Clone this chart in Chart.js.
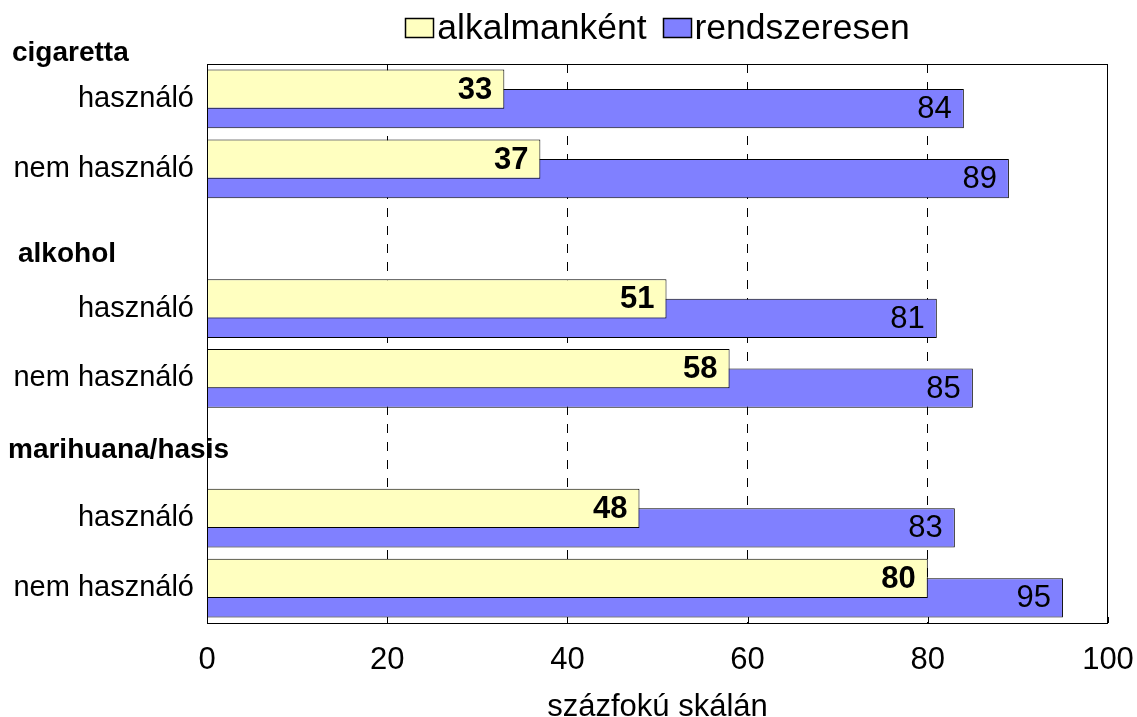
<!DOCTYPE html>
<html>
<head>
<meta charset="utf-8">
<script src="https://cdn.jsdelivr.net/npm/chart.js@4"></script>
<style>
  html, body { margin: 0; padding: 0; background: #fff; }
  #wrap { width: 1137px; height: 717px; }
</style>
</head>
<body>
<div id="wrap"><canvas id="chart" width="1137" height="717"></canvas></div>
<script>
// Rows of the chart (empty rows leave room for the group headings)
const categories = ['használó', 'nem használó', '', 'használó', 'nem használó', '', 'használó', 'nem használó'];
// Values on a 0-100 scale
const occasional = [33, 37, null, 51, 58, null, 48, 80];
const regular    = [84, 89, null, 81, 85, null, 83, 95];
const seriesNames = ['alkalmanként', 'rendszeresen'];
// Group headings and where they sit, in row units of the category axis
const groupNames = ['cigaretta', 'alkohol', 'marihuana/hasis'];
const groupRows  = [-0.65, 2.22, 5.03];
const groupLeft  = [12, 18, 8];
const xTicks = [0, 20, 40, 60, 80, 100];
const axisTitle = 'százfokú skálán';

const FONT = "'Liberation Sans', Arial, sans-serif";
const fillColors = ['#FFFFC0', '#8080FF'];

// Black frame around the plot area plus short inward tick marks on the bottom edge
const framePlugin = {
  id: 'frame',
  afterDatasetsDraw(chart) {
    const { ctx, chartArea: a, scales } = chart;
    ctx.save();
    ctx.strokeStyle = '#000';
    ctx.lineWidth = 1;
    ctx.setLineDash([]);
    ctx.strokeRect(Math.round(a.left) + 0.5, Math.round(a.top) + 0.5,
                   Math.round(a.right - a.left) - 1, Math.round(a.bottom - a.top));
    scales.x.ticks.forEach(t => {
      const px = Math.round(scales.x.getPixelForValue(t.value)) + 0.5;
      ctx.beginPath();
      ctx.moveTo(px, a.bottom);
      ctx.lineTo(px, a.bottom - 6);
      ctx.stroke();
    });
    ctx.restore();
  }
};

// Value labels at the end of each bar
const valueLabelPlugin = {
  id: 'valueLabels',
  afterDatasetsDraw(chart) {
    const { ctx } = chart;
    ctx.save();
    ctx.fillStyle = '#000';
    ctx.textAlign = 'right';
    ctx.textBaseline = 'middle';
    chart.data.datasets.forEach((ds, di) => {
      const meta = chart.getDatasetMeta(di);
      ctx.font = (di === 0 ? 'bold 31px ' : '31px ') + FONT;
      meta.data.forEach((el, i) => {
        const v = ds.data[i];
        if (v === null || v === undefined) return;
        ctx.fillText(String(v), el.x - 12, el.y + 1);
      });
    });
    ctx.restore();
  }
};

// Group headings and the legend across the top
const headingPlugin = {
  id: 'headings',
  afterDraw(chart) {
    const { ctx, chartArea: a, scales } = chart;
    ctx.save();
    ctx.fillStyle = '#000';
    ctx.textBaseline = 'middle';
    ctx.textAlign = 'left';
    ctx.font = 'bold 28px ' + FONT;
    groupNames.forEach((name, i) => {
      ctx.fillText(name, groupLeft[i], scales.y.getPixelForValue(groupRows[i]));
    });

    // legend
    ctx.font = '35.5px ' + FONT;
    const boxW = 29, boxH = 20, gap = 3, itemGap = 16;
    const widths = chart.data.datasets.map(ds => ctx.measureText(ds.label).width);
    const total = widths.reduce((s, w) => s + boxW + gap + w, 0) + itemGap * (widths.length - 1);
    let x = (a.left + a.right) / 2 - total / 2;
    const cy = a.top - 36;
    chart.data.datasets.forEach((ds, i) => {
      ctx.fillStyle = ds.backgroundColor;
      ctx.fillRect(Math.round(x), Math.round(cy - boxH / 2), boxW, boxH);
      ctx.strokeStyle = '#000';
      ctx.lineWidth = 1.5;
      ctx.strokeRect(Math.round(x) + 0.5, Math.round(cy - boxH / 2) + 0.5, boxW - 1, boxH - 1);
      ctx.fillStyle = '#000';
      ctx.fillText(ds.label, x + boxW + gap, cy + 1);
      x += boxW + gap + widths[i] + itemGap;
    });
    ctx.restore();
  }
};

new Chart(document.getElementById('chart'), {
  type: 'bar',
  data: {
    labels: categories,
    datasets: [
      { label: seriesNames[0], data: occasional, backgroundColor: fillColors[0],
        borderColor: '#000', borderWidth: 1, categoryPercentage: 0.557, barPercentage: 2.02 },
      { label: seriesNames[1], data: regular, backgroundColor: fillColors[1],
        borderColor: '#000', borderWidth: 1, categoryPercentage: 0.557, barPercentage: 2.02 }
    ]
  },
  options: {
    indexAxis: 'y',
    responsive: false,
    animation: false,
    layout: { padding: { top: 64, right: 29, left: 0, bottom: 0 } },
    plugins: { legend: { display: false }, tooltip: { enabled: false } },
    scales: {
      x: {
        min: 0, max: 100,
        afterBuildTicks(s) { s.ticks = xTicks.map(v => ({ value: v })); },
        ticks: { color: '#000', padding: 19, font: { family: FONT, size: 31 } },
        grid: {
          color: c => (c.tick && (c.tick.value === 0 || c.tick.value === 100)) ? 'rgba(0,0,0,0)' : '#000',
          lineWidth: 1, drawTicks: false
        },
        border: { display: false, dash: [9, 9] },
        title: { display: true, text: axisTitle, color: '#000',
                 font: { family: FONT, size: 31, lineHeight: 1 }, padding: { top: 0, bottom: -6 } },
        afterFit(s) { s.height = 94; s.paddingLeft = 0; s.paddingRight = 0; }
      },
      y: {
        ticks: { color: '#000', padding: 13, font: { family: FONT, size: 29 } },
        grid: { display: false, drawTicks: false },
        border: { display: false },
        afterFit(s) { s.width = 207; }
      }
    }
  },
  plugins: [framePlugin, valueLabelPlugin, headingPlugin]
});
</script>
</body>
</html>
